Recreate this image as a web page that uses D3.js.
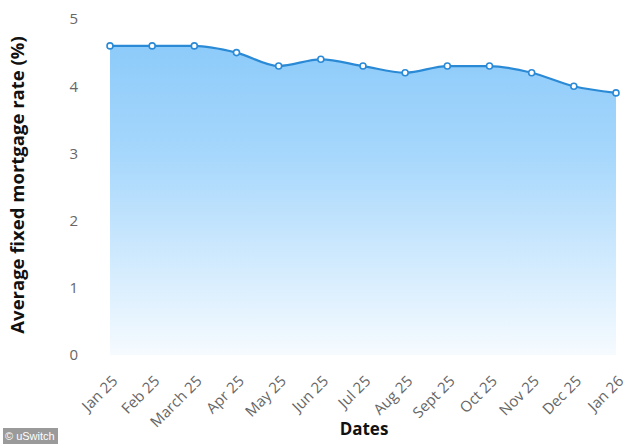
<!DOCTYPE html>
<html><head><meta charset="utf-8">
<script src="https://cdn.jsdelivr.net/npm/d3@7"></script>
<style>body{margin:0;background:#fff;} svg{display:block;}</style>
</head><body>
<svg id="c" width="634" height="444"></svg>
<script>
const dates = ["Jan 25","Feb 25","March 25","Apr 25","May 25","Jun 25","Jul 25","Aug 25","Sept 25","Oct 25","Nov 25","Dec 25","Jan 26"];
const rates = [4.6,4.6,4.6,4.5,4.3,4.4,4.3,4.2,4.3,4.3,4.2,4.0,3.9];
const yTicks = [0,1,2,3,4,5];

const svg = d3.select("#c");
const x = d3.scalePoint().domain(dates).range([110,616]);
const y = d3.scaleLinear().domain([0,5]).range([355,19]);
const data = dates.map((d,i)=>({d, v:rates[i]}));

const defs = svg.append("defs");
const g = defs.append("linearGradient").attr("id","fillg")
  .attr("gradientUnits","userSpaceOnUse").attr("x1",0).attr("x2",0).attr("y1",y(4.6)).attr("y2",y(0));
g.append("stop").attr("offset","0").attr("stop-color","#8dcbfa");
g.append("stop").attr("offset","0.35").attr("stop-color","#a6d7fc");
g.append("stop").attr("offset","1").attr("stop-color","#f6fbff");

const curve = d3.curveMonotoneX;
svg.append("path").datum(data)
  .attr("d", d3.area().x(p=>x(p.d)).y0(y(0)).y1(p=>y(p.v)).curve(curve))
  .attr("fill","url(#fillg)");
svg.append("path").datum(data)
  .attr("d", d3.line().x(p=>x(p.d)).y(p=>y(p.v)).curve(curve))
  .attr("fill","none").attr("stroke","#2b8ad6").attr("stroke-width",2.2);
svg.selectAll("circle.pt").data(data).join("circle")
  .attr("cx",p=>x(p.d)).attr("cy",p=>y(p.v)).attr("r",3)
  .attr("fill","#fff").attr("stroke","#2b8ad6").attr("stroke-width",1.6);

// Y axis
const ya = svg.append("g").attr("transform","translate(78,0)")
  .call(d3.axisLeft(y).tickValues(yTicks).tickSize(0).tickPadding(0).tickFormat(d3.format("d")));
ya.select(".domain").remove();
ya.selectAll("text").attr("font-family","'Open Sans', sans-serif").attr("font-size",15).attr("fill","#666");

// X axis
const xa = svg.append("g").attr("transform","translate(0,362)")
  .call(d3.axisBottom(x).tickSize(0).tickPadding(0));
xa.select(".domain").remove();
xa.selectAll("text").attr("font-family","'Open Sans', sans-serif").attr("font-size",15).attr("fill","#666")
  .attr("text-anchor","end").attr("x",0).attr("y",0).attr("dy",0).attr("transform","translate(8,20) rotate(-45)");

svg.append("text").attr("x",364).attr("y",435).attr("text-anchor","middle")
  .attr("font-family","'Open Sans', sans-serif").attr("font-weight","bold").attr("font-size",17).attr("fill","#111").text("Dates");
svg.append("text").attr("transform","translate(24,185) rotate(-90)").attr("text-anchor","middle")
  .attr("font-family","'Open Sans', sans-serif").attr("font-weight","bold").attr("font-size",18.5).attr("fill","#111").text("Average fixed mortgage rate (%)");

svg.append("rect").attr("x",3).attr("y",428).attr("width",55).attr("height",16).attr("fill","#9a9a9a");
svg.append("text").attr("x",5).attr("y",440).attr("font-family","'Liberation Sans', Arial, sans-serif").attr("font-size",11).attr("fill","#fff").text("© uSwitch");
</script>
</body></html>
